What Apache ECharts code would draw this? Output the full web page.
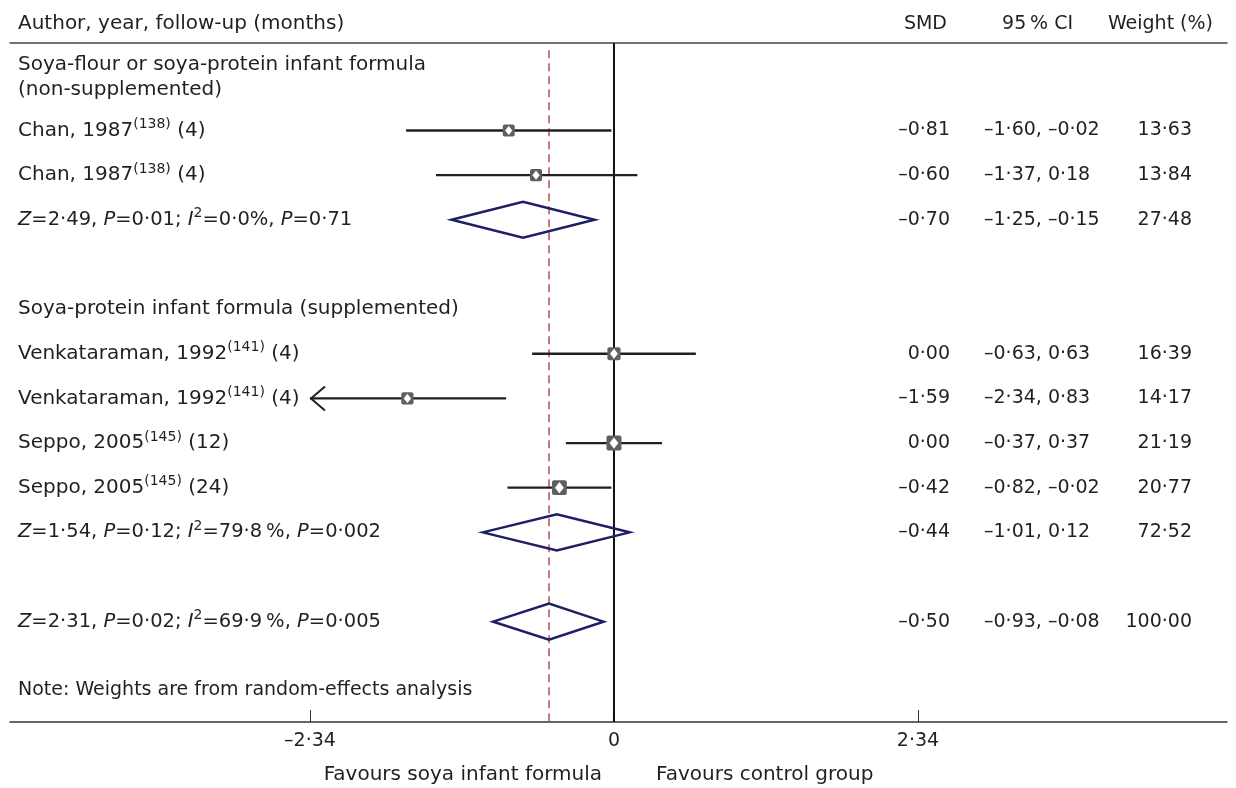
<!DOCTYPE html>
<html><head><meta charset="utf-8">
<script src="https://cdn.jsdelivr.net/npm/echarts@6/dist/echarts.min.js"></script>
<style>html,body{margin:0;padding:0;background:#fff}#c{width:1236px;height:788px}</style>
</head><body><div id="c"></div>
<script>
// ---------------- data ----------------
const authors = ['Chan', 'Chan', 'Venkataraman', 'Venkataraman', 'Seppo', 'Seppo'];
const years = [1987, 1987, 1992, 1992, 2005, 2005];
const refs = [138, 138, 141, 141, 145, 145];
const followUp = [4, 4, 4, 4, 12, 24];
const studyGroup = [0, 0, 1, 1, 1, 1];
const smd = [-0.81, -0.60, 0.00, -1.59, 0.00, -0.42];
const ciLow = [-1.60, -1.37, -0.63, -2.34, -0.37, -0.82];
const ciHigh = [-0.02, 0.18, 0.63, -0.83, 0.37, -0.02];
const ciPrinted = ['–1·60, –0·02', '–1·37, 0·18', '–0·63, 0·63', '–2·34, 0·83', '–0·37, 0·37', '–0·82, –0·02'];
const weights = [13.63, 13.84, 16.39, 14.17, 21.19, 20.77];

const groupTitles = ['Soya-flour or soya-protein infant formula\n(non-supplemented)', 'Soya-protein infant formula (supplemented)'];
const pooledSMD = [-0.70, -0.44, -0.50];
const pooledLow = [-1.25, -1.01, -0.93];
const pooledHigh = [-0.15, 0.12, -0.08];
const pooledWeight = [27.48, 72.52, 100.00];
const pooledZ = ['2·49', '1·54', '2·31'];
const pooledP = ['0·01', '0·12', '0·02'];
const pooledI2 = ['0·0%', '79·8\u2009%', '69·9\u2009%'];
const pooledPhet = ['0·71', '0·002', '0·005'];

const xTicks = [-2.34, 0, 2.34];
const columnHeaders = ['Author, year, follow-up (months)', 'SMD', '95\u2009% CI', 'Weight (%)'];
const sideLabels = ['Favours soya infant formula', 'Favours control group'];
const noteText = 'Note: Weights are from random-effects analysis';

// ---------------- layout / style ----------------
const FF = '"DejaVu Sans", sans-serif';
const INK = '#231f20';
const NAVY = '#1e1e66';
const studyRows = [0, 1, 5, 6, 7, 8];
const pooledRows = [2, 9, 11];
const titleRows = [-1.19, 4];
const noteRow = 12.53;
const COL = { label: 18, smd: 950, ci: 984, w: 1192 };

function fmt(v) {
  const s = Math.abs(v).toFixed(2).replace('.', '·');
  return (v < 0 ? '–' : '') + s;
}
const rich = {
  sup: { fontSize: 14, fontFamily: FF, fill: INK, verticalAlign: 'top', lineHeight: 14 },
  i: { fontSize: 19.5, fontFamily: FF, fill: INK, fontStyle: 'italic', lineHeight: 26 }
};
function txt(x, y, text, align, size, useRich) {
  const style = { text: text, x: 0, y: 0, fill: INK, fontSize: size, fontFamily: FF,
    align: align, verticalAlign: 'middle', lineHeight: size >= 19.5 ? 26 : 22 };
  if (useRich) style.rich = rich;
  return { type: 'text', x: x, y: y, style: style };
}

const chart = echarts.init(document.getElementById('c'), null, { renderer: 'canvas' });

const studyData = smd.map((v, i) => [v, studyRows[i], ciLow[i], ciHigh[i], weights[i]]);
const pooledData = pooledSMD.map((v, i) => [v, pooledRows[i], pooledLow[i], pooledHigh[i], pooledWeight[i]]);

const option = {
  backgroundColor: '#fff',
  animation: false,
  grid: { left: 10, top: 43, width: 1217, height: 679 },
  xAxis: [{
    type: 'value', min: -4.649, max: 4.7186, position: 'bottom',
    axisLine: { show: true, onZero: false, lineStyle: { color: '#333', width: 1.5 } },
    axisTick: { show: true, inside: true, length: 12, customValues: xTicks, lineStyle: { color: '#333', width: 1 } },
    axisLabel: { show: true, customValues: xTicks, margin: 10, fontSize: 19, fontFamily: FF, color: INK,
      formatter: v => (Math.abs(v) < 1e-9 ? '0' : fmt(v)) },
    splitLine: { show: false }
  }, {
    type: 'value', min: -4.649, max: 4.7186, position: 'top',
    axisLine: { show: true, onZero: false, lineStyle: { color: '#444', width: 1.5 } },
    axisTick: { show: false }, axisLabel: { show: false }, splitLine: { show: false }
  }],
  yAxis: { type: 'value', inverse: true, min: -1.96, max: 13.247, show: false },
  graphic: [
    { type: 'text', x: 18, y: 24, style: { text: columnHeaders[0], fill: INK, fontSize: 20, fontFamily: FF, align: 'left', verticalAlign: 'middle' } },
    { type: 'text', x: 947, y: 24, style: { text: columnHeaders[1], fill: INK, fontSize: 19, fontFamily: FF, align: 'right', verticalAlign: 'middle' } },
    { type: 'text', x: 1073, y: 24, style: { text: columnHeaders[2], fill: INK, fontSize: 19, fontFamily: FF, align: 'right', verticalAlign: 'middle' } },
    { type: 'text', x: 1213, y: 24, style: { text: columnHeaders[3], fill: INK, fontSize: 19, fontFamily: FF, align: 'right', verticalAlign: 'middle' } },
    { type: 'text', x: 602, y: 775, style: { text: sideLabels[0], fill: INK, fontSize: 20, fontFamily: FF, align: 'right', verticalAlign: 'middle' } },
    { type: 'text', x: 656, y: 775, style: { text: sideLabels[1], fill: INK, fontSize: 20, fontFamily: FF, align: 'left', verticalAlign: 'middle' } }
  ],
  series: [
    { // reference lines
      type: 'custom', xAxisIndex: 0, yAxisIndex: 0, z: 1,
      data: [[pooledSMD[2], 0]],
      renderItem: function (params, api) {
        const top = api.coord([0, -1.96]);
        const bot = api.coord([0, 13.247]);
        const dTop = api.coord([api.value(0), -1.8]);
        return { type: 'group', children: [
          { type: 'line', shape: { x1: top[0], y1: top[1], x2: bot[0], y2: bot[1] }, style: { stroke: '#111', lineWidth: 2 } },
          { type: 'line', z2: 5, shape: { x1: dTop[0], y1: dTop[1], x2: dTop[0], y2: bot[1] }, style: { stroke: '#b0505c', lineWidth: 1.5, lineDash: [8, 5] } }
        ] };
      }
    },
    { // titles and note
      type: 'custom', xAxisIndex: 0, yAxisIndex: 0, z: 3,
      data: titleRows.map((r, i) => [0, r, i]).concat([[0, noteRow, -1]]),
      renderItem: function (params, api) {
        const y = api.coord([0, api.value(1)])[1];
        const k = api.value(2);
        const t = k >= 0 ? groupTitles[k] : noteText;
        const el = txt(COL.label, y, t, 'left', k >= 0 ? 20 : 19, false);
        el.style.lineHeight = 25;
        return el;
      }
    },
    { // studies
      type: 'custom', xAxisIndex: 0, yAxisIndex: 0, z: 4,
      data: studyData,
      renderItem: function (params, api) {
        const i = params.dataIndex;
        const row = api.value(1);
        const pe = api.coord([api.value(0), row]);
        const xe = pe[0], y = pe[1];
        const xl = api.coord([api.value(2), row])[0];
        const xh = api.coord([api.value(3), row])[0];
        const s = 3.25 * Math.sqrt(api.value(4));
        const ch = [
          { type: 'line', shape: { x1: xl, y1: y, x2: xh, y2: y }, style: { stroke: INK, lineWidth: 2.3 } }
        ];
        if (api.value(2) <= xTicks[0] + 1e-9) {
          ch.push({ type: 'polyline', shape: { points: [[xl + 15, y - 12], [xl + 1, y], [xl + 15, y + 12]] },
            style: { stroke: INK, lineWidth: 2, fill: 'none' } });
        }
        ch.push({ type: 'rect', z2: 10, shape: { x: xe - s / 2, y: y - s / 2, width: s, height: s, r: 2 }, style: { fill: '#5f5f5f' } });
        ch.push({ type: 'polygon', z2: 11, shape: { points: [[xe, y - s * 0.38], [xe + s * 0.3, y], [xe, y + s * 0.38], [xe - s * 0.3, y]] }, style: { fill: '#fff' } });
        const label = authors[i] + ', ' + years[i] + '{sup|(' + refs[i] + ')} (' + followUp[i] + ')';
        ch.push(txt(COL.label, y, label, 'left', 20, true));
        ch.push(txt(COL.smd, y, fmt(api.value(0)), 'right', 19, false));
        ch.push(txt(COL.ci, y, ciPrinted[i], 'left', 19, false));
        ch.push(txt(COL.w, y, api.value(4).toFixed(2).replace('.', '·'), 'right', 19, false));
        return { type: 'group', children: ch };
      }
    },
    { // pooled diamonds
      type: 'custom', xAxisIndex: 0, yAxisIndex: 0, z: 4,
      data: pooledData,
      renderItem: function (params, api) {
        const i = params.dataIndex;
        const row = api.value(1);
        const pe = api.coord([api.value(0), row]);
        const xe = pe[0], y = pe[1];
        const xl = api.coord([api.value(2), row])[0];
        const xh = api.coord([api.value(3), row])[0];
        const h = 18;
        const ch = [
          { type: 'polygon', z2: 8, shape: { points: [[xl, y], [xe, y - h], [xh, y], [xe, y + h]] },
            style: { stroke: NAVY, lineWidth: 2.5, fill: 'none', lineJoin: 'miter' } }
        ];
        const label = '{i|Z}=' + pooledZ[i] + ', {i|P}=' + pooledP[i] + '; {i|I}{sup|2}=' + pooledI2[i] + ', {i|P}=' + pooledPhet[i];
        ch.push(txt(COL.label, y, label, 'left', 19.5, true));
        ch.push(txt(COL.smd, y, fmt(api.value(0)), 'right', 19, false));
        ch.push(txt(COL.ci, y, fmt(api.value(2)) + ', ' + fmt(api.value(3)), 'left', 19, false));
        ch.push(txt(COL.w, y, api.value(4).toFixed(2).replace('.', '·'), 'right', 19, false));
        return { type: 'group', children: ch };
      }
    }
  ]
};
chart.setOption(option);
</script></body></html>
